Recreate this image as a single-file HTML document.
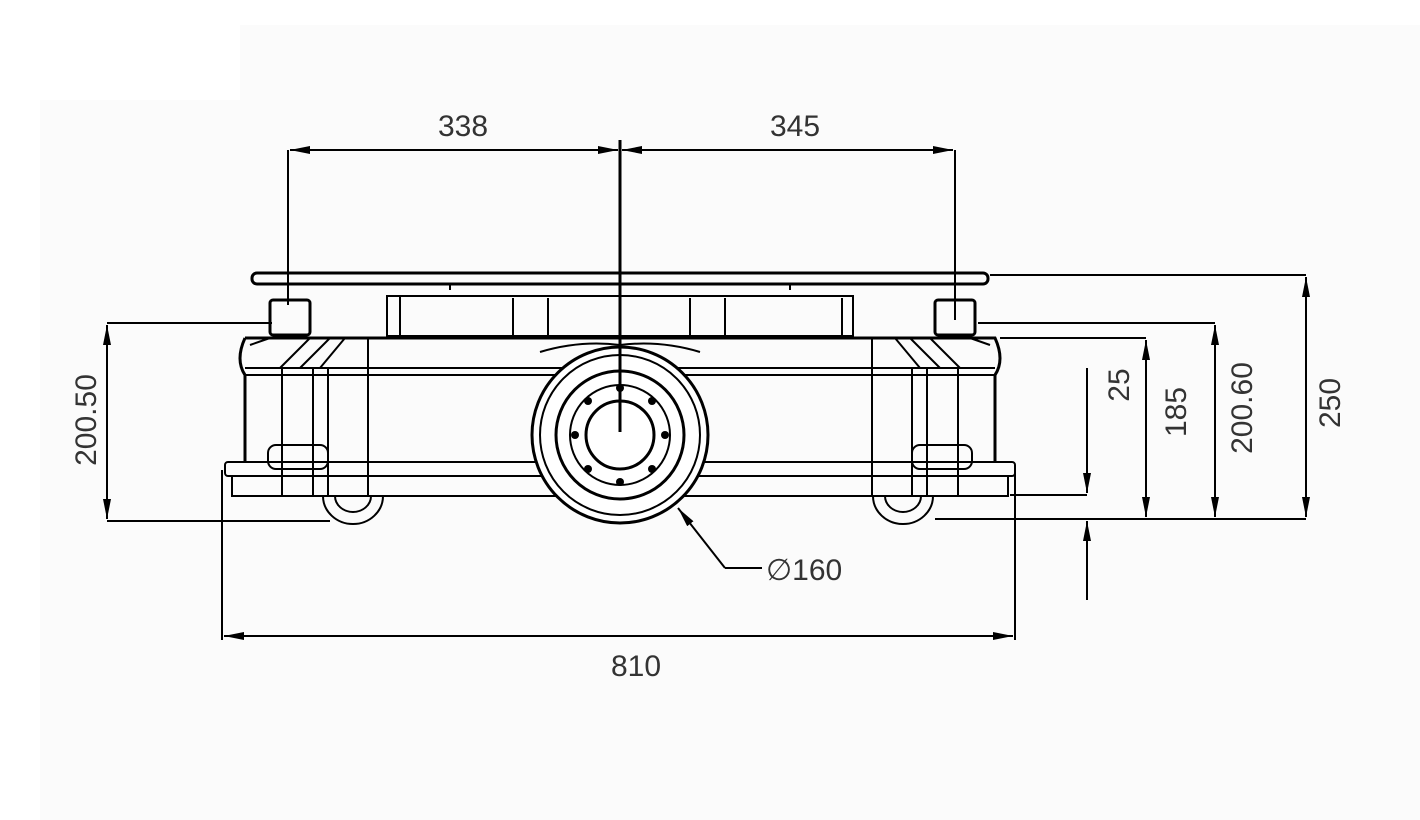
<!DOCTYPE html>
<html><head><style>
html,body{margin:0;padding:0;background:#fff;}
svg{display:block;}
text{font-family:"Liberation Sans",sans-serif;fill:#333;font-size:30px;}
</style></head><body>
<svg width="1420" height="820" viewBox="0 0 1420 820" xmlns="http://www.w3.org/2000/svg">
<defs>
<marker id="a" viewBox="0 0 20 8" refX="20" refY="4" markerWidth="20" markerHeight="8" orient="auto-start-reverse" markerUnits="userSpaceOnUse"><path d="M0,0 L20,4 L0,8 Z" fill="#000"/></marker>
</defs>
<rect x="40" y="100" width="1380" height="720" fill="#fbfbfb"/>
<rect x="240" y="25" width="1180" height="80" fill="#fbfbfb"/>
<g stroke="#000" fill="none" stroke-width="2">
<!-- top plate -->
<rect x="252" y="273" width="736" height="11" rx="5" stroke-width="3"/>
<line x1="450" y1="284" x2="450" y2="290"/>
<line x1="790" y1="284" x2="790" y2="290"/>
<!-- upper box -->
<rect x="387" y="296" width="466" height="40"/>
<line x1="400" y1="296" x2="400" y2="336"/>
<line x1="513" y1="298" x2="513" y2="336"/>
<line x1="548" y1="298" x2="548" y2="336"/>
<line x1="690" y1="298" x2="690" y2="336"/>
<line x1="725" y1="298" x2="725" y2="336"/>
<line x1="842" y1="298" x2="842" y2="336"/>
<!-- posts -->
<rect x="270" y="300" width="40" height="35" rx="3" stroke-width="3"/>
<rect x="935" y="300" width="40" height="35" rx="3" stroke-width="3"/>
<!-- body -->
<path d="M245,338 Q235,360 245,375 L245,462 M245,338 L995,338 Q1005,360 995,375 L995,462" stroke-width="3"/>
<line x1="245" y1="368" x2="995" y2="368"/>
<line x1="245" y1="375" x2="995" y2="375"/>
<line x1="282" y1="368" x2="282" y2="495"/>
<line x1="313" y1="368" x2="313" y2="495"/>
<line x1="328" y1="368" x2="328" y2="495"/>
<line x1="368" y1="338" x2="368" y2="495"/>
<line x1="872" y1="338" x2="872" y2="495"/>
<line x1="912" y1="368" x2="912" y2="495"/>
<line x1="927" y1="368" x2="927" y2="495"/>
<line x1="958" y1="368" x2="958" y2="495"/>
<path d="M250,345 L270,338 M280,368 L310,338 M300,368 L330,338 M320,368 L345,338"/>
<path d="M990,345 L970,338 M960,368 L930,338 M940,368 L910,338 M920,368 L895,338"/>
<!-- base plate -->
<rect x="225" y="462" width="790" height="14" rx="3"/>
<rect x="232" y="476" width="776" height="20"/>
<rect x="268" y="445" width="60" height="24" rx="8"/>
<rect x="912" y="445" width="60" height="24" rx="8"/>
<path d="M323,496 A30,28 0 0 0 383,496"/>
<path d="M335,496 A18,16 0 0 0 371,496"/>
<path d="M873,496 A30,28 0 0 0 933,496"/>
<path d="M885,496 A18,16 0 0 0 921,496"/>
<!-- wheel -->
<circle cx="620" cy="435" r="88" fill="#fff" stroke-width="3"/>
<circle cx="620" cy="435" r="80" stroke-width="2"/>
<circle cx="620" cy="435" r="64" stroke-width="3"/>
<circle cx="620" cy="435" r="50" stroke-width="2"/>
<circle cx="620" cy="435" r="34" stroke-width="3"/>
<path d="M540,352 Q580,340 620,345 Q660,340 700,352" stroke-width="2"/>
</g>
<g fill="#000">
<circle cx="620" cy="388" r="4"/><circle cx="652" cy="401" r="4"/><circle cx="665" cy="435" r="4"/><circle cx="652" cy="469" r="4"/><circle cx="620" cy="482" r="4"/><circle cx="588" cy="469" r="4"/><circle cx="575" cy="435" r="4"/><circle cx="588" cy="401" r="4"/>
</g>
<!-- dimension lines -->
<g stroke="#000" fill="none" stroke-width="2">
<line x1="620" y1="140" x2="620" y2="432" stroke-width="3"/>
<line x1="288" y1="150" x2="288" y2="305"/>
<line x1="955" y1="150" x2="955" y2="320"/>
<line x1="290" y1="150" x2="618" y2="150" marker-start="url(#a)" marker-end="url(#a)"/>
<line x1="622" y1="150" x2="953" y2="150" marker-start="url(#a)" marker-end="url(#a)"/>
<!-- left 200.50 -->
<line x1="107" y1="323" x2="272" y2="323"/>
<line x1="107" y1="521" x2="330" y2="521"/>
<line x1="107" y1="325" x2="107" y2="519" marker-start="url(#a)" marker-end="url(#a)"/>
<!-- right -->
<line x1="990" y1="275" x2="1306" y2="275"/>
<line x1="978" y1="323" x2="1215" y2="323"/>
<line x1="1000" y1="338" x2="1146" y2="338"/>
<line x1="935" y1="519" x2="1306" y2="519"/>
<line x1="1010" y1="495" x2="1087" y2="495"/>
<line x1="1306" y1="277" x2="1306" y2="517" marker-start="url(#a)" marker-end="url(#a)"/>
<line x1="1215" y1="325" x2="1215" y2="517" marker-start="url(#a)" marker-end="url(#a)"/>
<line x1="1146" y1="340" x2="1146" y2="517" marker-start="url(#a)" marker-end="url(#a)"/>
<line x1="1087" y1="368" x2="1087" y2="493" marker-end="url(#a)"/>
<line x1="1087" y1="600" x2="1087" y2="521" marker-end="url(#a)"/>
<!-- 810 -->
<line x1="222" y1="470" x2="222" y2="640"/>
<line x1="1015" y1="470" x2="1015" y2="640"/>
<line x1="224" y1="636" x2="1013" y2="636" marker-start="url(#a)" marker-end="url(#a)"/>
<!-- leader -->
<polyline points="762,568 725,568" />
<line x1="725" y1="568" x2="678" y2="508" marker-end="url(#a)"/>
</g>
<text x="463" y="136" text-anchor="middle">338</text>
<text x="795" y="136" text-anchor="middle">345</text>
<text x="636" y="676" text-anchor="middle">810</text>
<text x="766" y="580" >∅160</text>
<text transform="translate(96,420) rotate(-90)" text-anchor="middle">200.50</text>
<text transform="translate(1129,385) rotate(-90)" text-anchor="middle">25</text>
<text transform="translate(1186,412) rotate(-90)" text-anchor="middle">185</text>
<text transform="translate(1252,408) rotate(-90)" text-anchor="middle">200.60</text>
<text transform="translate(1340,403) rotate(-90)" text-anchor="middle">250</text>
</svg>
</body></html>
